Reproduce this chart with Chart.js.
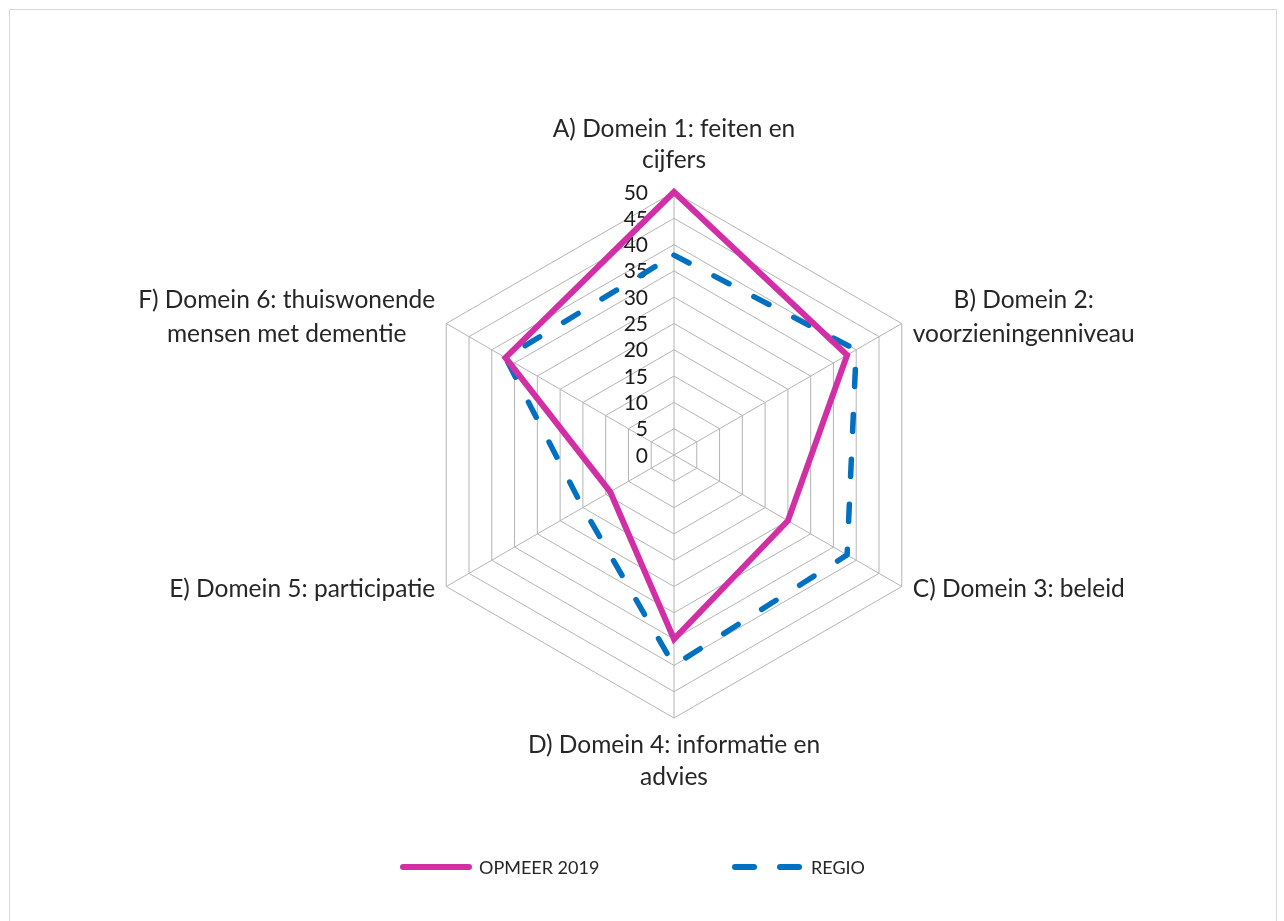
<!DOCTYPE html>
<html lang="nl">
<head>
    <meta charset="UTF-8">
    <title>Radar domeinen</title>
    <script src="https://cdn.jsdelivr.net/npm/chart.js"></script>
    <style>
        body {
            margin: 0;
            padding: 0;
            background: #ffffff;
            font-family: Lato, Arial, sans-serif;
        }

        .frame {
            position: absolute;
            left: 9px;
            top: 9px;
            width: 1266px;
            height: 930px;
            border: 1px solid #d9d9d9;
        }

        .chart-box {
            position: absolute;
            left: 0;
            top: 0;
            width: 1284px;
            height: 921px;
        }

        .legend-line {
            position: absolute;
            height: 6px;
            border-radius: 3px;
        }

        .legend-text {
            position: absolute;
            font-size: 18px;
            color: #262626;
            line-height: 20px;
        }
    </style>
</head>
<body>
    <div class="frame"></div>
    <div class="chart-box">
        <canvas id="radarChart" width="1284" height="921"></canvas>
    </div>

    <!-- legenda -->
    <div class="legend-line" style="left:400px; top:864px; width:72px; background:#d22fa6;"></div>
    <div class="legend-text" style="left:479px; top:857px;">OPMEER 2019</div>
    <div class="legend-line" style="left:732px; top:864px; width:25px; background:#0070c0;"></div>
    <div class="legend-line" style="left:777px; top:864px; width:25px; background:#0070c0;"></div>
    <div class="legend-text" style="left:811px; top:857px;">REGIO</div>

    <script>
        const domains = [
            ["A) Domein 1: feiten en", "cijfers"],
            ["B) Domein 2:", "voorzieningenniveau"],
            ["C) Domein 3: beleid"],
            ["D) Domein 4: informatie en", "advies"],
            ["E) Domein 5: participatie"],
            ["F) Domein 6: thuiswonende", "mensen met dementie"]
        ];
        const opmeer2019 = [50, 38, 25, 35, 14, 37];
        const regio = [38, 40, 38, 40, 20, 37];
        const scaleMin = 0;
        const scaleMax = 50;
        const scaleStep = 5;

        // tick labels right aligned left of the vertical axis, "0" included
        const tickLabelsPlugin = {
            id: "tickLabels",
            beforeDatasetsDraw(chart) {
                const scale = chart.scales.r;
                const c = chart.ctx;
                c.save();
                c.font = "21px Lato";
                c.fillStyle = "#1a1a1a";
                c.textAlign = "right";
                c.textBaseline = "alphabetic";
                scale.ticks.forEach(t => {
                    const d = scale.getDistanceFromCenterForValue(t.value);
                    c.fillText(String(t.value), scale.xCenter - 26, scale.yCenter - d + 7.5);
                });
                c.restore();
            }
        };

        // axis labels like in Excel: lines centred within the block
        const axisLabelsPlugin = {
            id: "axisLabels",
            afterDraw(chart) {
                const scale = chart.scales.r;
                const c = chart.ctx;
                c.save();
                c.font = "24.5px Lato";
                c.fillStyle = "#262626";
                c.textAlign = "center";
                c.textBaseline = "alphabetic";
                chart.data.labels.forEach((lines, i) => {
                    const p = scale.getPointPosition(i, scale.drawingArea);
                    const n = lines.length;
                    const blockW = Math.max(...lines.map(l => c.measureText(l).width));
                    const dx = p.x - scale.xCenter;
                    const dy = p.y - scale.yCenter;
                    lines.forEach((line, k) => {
                        let x, y;
                        if (Math.abs(dx) < 1) {
                            x = p.x;
                            if (dy < 0) {
                                y = p.y - 24 - (n - 1 - k) * 31;
                            } else {
                                y = p.y + 35 + k * 32;
                            }
                        } else {
                            x = dx > 0 ? p.x + 11 + blockW / 2 : p.x - 11 - blockW / 2;
                            y = p.y + 10.5 - 9 * (n - 1) + (k - (n - 1) / 2) * 34;
                        }
                        c.fillText(line, x, y);
                    });
                });
                c.restore();
            }
        };

        const ctx = document.getElementById("radarChart").getContext("2d");

        new Chart(ctx, {
            type: "radar",
            data: {
                labels: domains,
                datasets: [
                    {
                        label: "OPMEER 2019",
                        data: opmeer2019,
                        borderColor: "#d22fa6",
                        backgroundColor: "#d22fa6",
                        borderWidth: 6,
                        borderJoinStyle: "miter",
                        fill: false,
                        pointRadius: 0,
                        pointHoverRadius: 0
                    },
                    {
                        label: "REGIO",
                        data: regio,
                        borderColor: "#0070c0",
                        backgroundColor: "#0070c0",
                        borderWidth: 5.5,
                        borderDash: [17, 28],
                        borderCapStyle: "round",
                        borderJoinStyle: "round",
                        fill: false,
                        pointRadius: 0,
                        pointHoverRadius: 0
                    }
                ]
            },
            options: {
                responsive: false,
                animation: false,
                layout: {
                    padding: { top: 192, bottom: 203, left: 411, right: 347 }
                },
                plugins: {
                    legend: { display: false },
                    tooltip: { enabled: false }
                },
                scales: {
                    r: {
                        min: scaleMin,
                        max: scaleMax,
                        beginAtZero: true,
                        ticks: {
                            stepSize: scaleStep,
                            display: false
                        },
                        grid: {
                            circular: false,
                            color: "#b4b4b4",
                            lineWidth: 1
                        },
                        angleLines: {
                            color: "#b4b4b4",
                            lineWidth: 1
                        },
                        pointLabels: {
                            display: false
                        }
                    }
                }
            },
            plugins: [tickLabelsPlugin, axisLabelsPlugin]
        });
    </script>
</body>
</html>
